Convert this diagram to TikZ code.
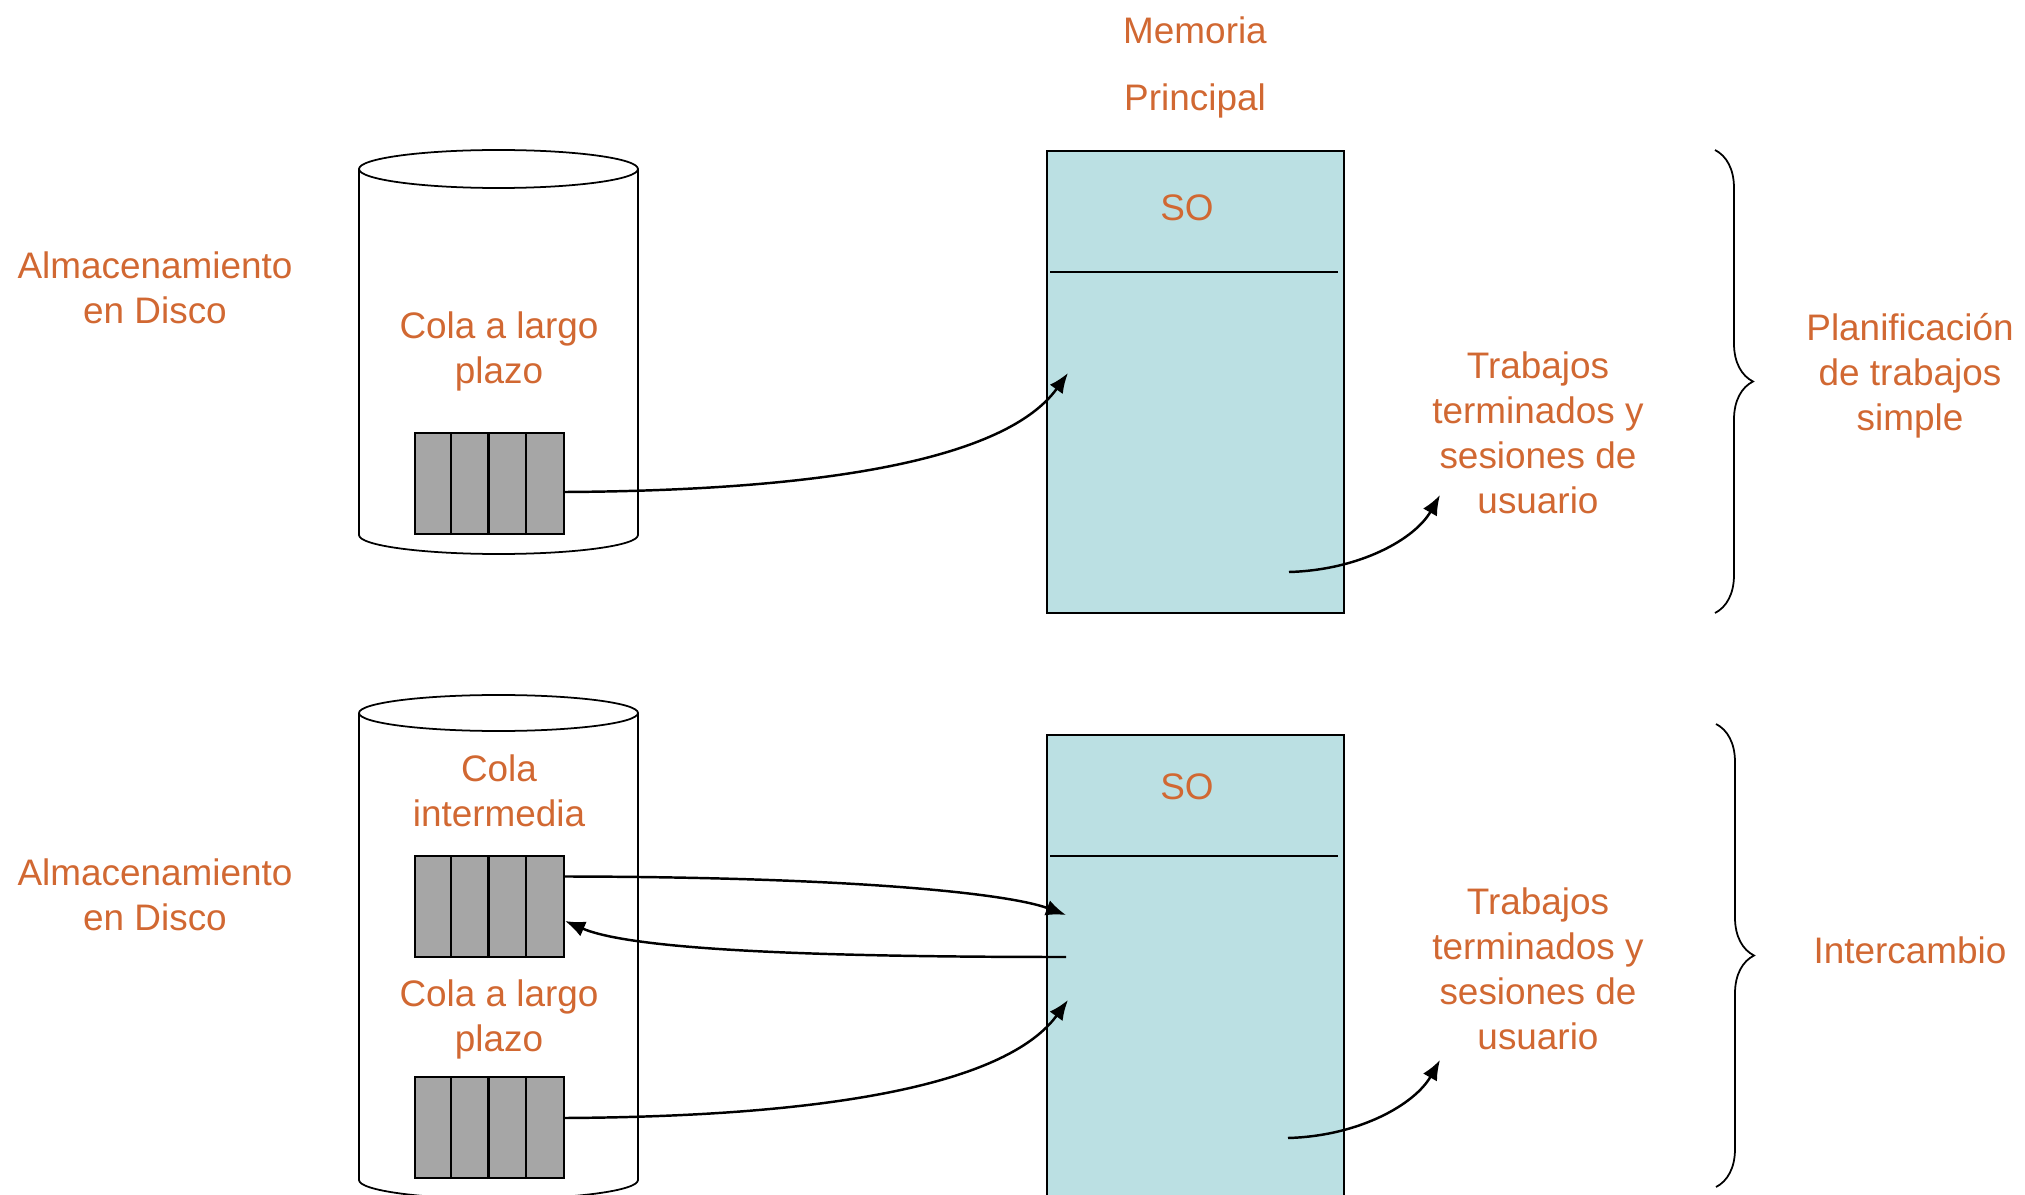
\documentclass[tikz,border=0pt]{standalone}
\usepackage{fontspec}
\setmainfont{Liberation Sans}
\usetikzlibrary{arrows.meta, positioning, decorations.pathreplacing}
\definecolor{txtorange}{RGB}{209,104,50}
\definecolor{memblue}{RGB}{187,224,227}
\definecolor{qgray}{RGB}{166,166,166}

\begin{document}
\begin{tikzpicture}[
    lbl/.style={text=txtorange, align=center, font=\fontsize{10.5}{12.8}\selectfont},
    queue/.style={draw, fill=qgray, line width=0.6pt, minimum width=1.49cm, minimum height=1.01cm, inner sep=0pt},
    mem/.style={draw, fill=memblue, line width=0.5pt, minimum width=2.97cm, inner sep=0pt},
    flow/.style={-{Latex[length=2mm, width=1.6mm]}, line width=0.7pt},
    bracegroup/.style={decorate, decoration={brace, amplitude=0.38cm}, line width=0.5pt}
  ]
  \useasboundingbox (0,0) rectangle (20.25,11.94);
  \clip (0,0) rectangle (20.25,11.94);

  % Planificacion de trabajos simple
  \draw[line width=0.5pt] (3.59,10.25) -- (3.59,6.59) arc[start angle=180, end angle=360, x radius=1.395, y radius=0.19] -- (6.38,10.25);
  \draw[line width=0.5pt] (4.985,10.25) ellipse [x radius=1.395, y radius=0.19];
  \node[lbl] (disk1) at (1.55,9.065) {Almacenamiento\\en Disco};
  \node[lbl] (cola1) at (4.99,8.425) {Cola a largo\\plazo};
  \node[queue] (qa) at (4.895,7.105) {};
  \foreach \i in {1,2,3}
    \draw[line width=0.6pt] ([xshift=\i*0.3725cm]qa.south west) -- ([xshift=\i*0.3725cm]qa.north west);

  \node[lbl, font=\fontsize{10.5}{19}\selectfont] (memtitle) at (11.95,11.265) {Memoria\\Principal};
  \node[mem, minimum height=4.62cm] (mem1) at (11.955,8.12) {};
  \draw[line width=0.6pt] (10.50,9.22) -- (13.38,9.22);
  \node[lbl] (so1) at (11.87,9.86) {SO};
  \coordinate (m1in) at (10.68,8.21);
  \coordinate (m1out) at (12.89,6.22);

  \node[lbl] (trab1) at (15.38,7.61) {Trabajos\\terminados y\\sesiones de\\usuario};
  \coordinate (t1in) at (14.40,6.99);

  \draw[flow] ([yshift=-0.85mm]qa.east) .. controls (9.0,7.04) and (10.2,7.54) .. (m1in);
  \draw[flow] (m1out) .. controls (13.60,6.24) and (14.15,6.55) .. (t1in);

  \coordinate (br1top) at (17.15,10.44);
  \coordinate (br1bot) at (17.15,5.81);
  \draw[bracegroup] (br1top) -- (br1bot);
  \node[lbl] (plan) at (19.10,8.18) {Planificación\\de trabajos\\simple};

  % Intercambio
  \draw[line width=0.5pt] (3.59,4.81) -- (3.59,0.14) arc[start angle=180, end angle=360, x radius=1.395, y radius=0.19] -- (6.38,4.81);
  \draw[line width=0.5pt] (4.985,4.81) ellipse [x radius=1.395, y radius=0.18];
  \node[lbl] (disk2) at (1.55,2.995) {Almacenamiento\\en Disco};
  \node[lbl] (cola2) at (4.99,4.035) {Cola\\intermedia};
  \node[queue] (qb1) at (4.895,2.875) {};
  \node[lbl] (cola3) at (4.99,1.75) {Cola a largo\\plazo};
  \node[queue] (qb2) at (4.895,0.665) {};
  \foreach \q in {qb1,qb2}
    \foreach \i in {1,2,3}
      \draw[line width=0.6pt] ([xshift=\i*0.3725cm]\q.south west) -- ([xshift=\i*0.3725cm]\q.north west);

  \node[mem, minimum height=5.09cm] (mem2) at (11.955,2.045) {};
  \draw[line width=0.6pt] (10.50,3.38) -- (13.38,3.38);
  \node[lbl] (so2) at (11.87,4.07) {SO};
  \coordinate (m2in) at (10.66,2.79);
  \coordinate (m2back) at (10.66,2.37);
  \coordinate (m2load) at (10.68,1.94);
  \coordinate (m2out) at (12.88,0.56);

  \node[lbl] (trab2) at (15.38,2.255) {Trabajos\\terminados y\\sesiones de\\usuario};
  \coordinate (t2in) at (14.40,1.34);

  \draw[flow] ([yshift=3mm]qb1.east) .. controls (8.6,3.17) and (10.1,3.0) .. (m2in);
  \draw[flow] (m2back) .. controls (8.0,2.37) and (6.3,2.45) .. ([yshift=-1.45mm]qb1.east);
  \draw[flow] ([yshift=0.95mm]qb2.east) .. controls (9.0,0.78) and (10.2,1.28) .. (m2load);
  \draw[flow] (m2out) .. controls (13.60,0.58) and (14.15,0.90) .. (t2in);

  \coordinate (br2top) at (17.16,4.70);
  \coordinate (br2bot) at (17.16,0.07);
  \draw[bracegroup] (br2top) -- (br2bot);
  \node[lbl] (inter) at (19.10,2.44) {Intercambio};
\end{tikzpicture}
\end{document}
